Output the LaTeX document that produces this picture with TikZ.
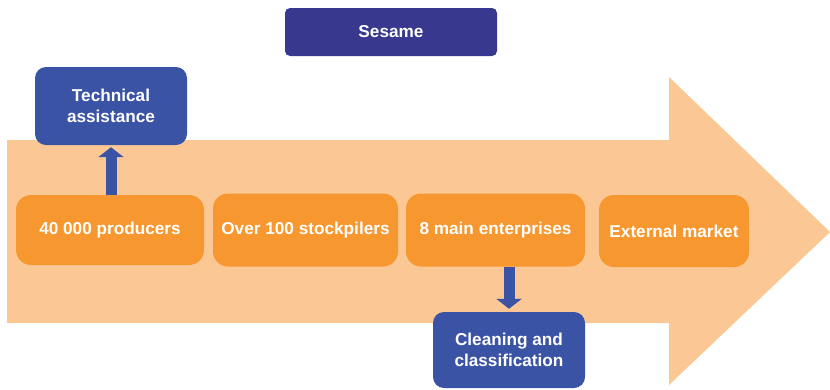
\documentclass[tikz,border=0pt]{standalone}
\usepackage{fontspec}
\setmainfont{Liberation Sans}
\usetikzlibrary{arrows.meta}
\definecolor{flowbg}{HTML}{FBC794}
\definecolor{stage}{HTML}{F7972F}
\definecolor{service}{HTML}{3A53A4}
\definecolor{titlebox}{HTML}{38388F}
\tikzset{
  stagebox/.style={fill=stage, rounded corners=15pt, text=white, font=\bfseries\fontsize{17.2}{20}\selectfont},
  servicebox/.style={fill=service, rounded corners=11pt, text=white, align=center, font=\bfseries\fontsize{17.2}{21}\selectfont},
  blockarrow/.style={draw=service, line width=11pt, -{Triangle[width=25pt,length=10pt]}}
}
\begin{document}
\begin{tikzpicture}[x=1pt,y=-1pt]
\useasboundingbox (0,0) rectangle (830,389);
% broad flow arrow
\fill[flowbg] (7,140) -- (669,140) -- (669,77) -- (830,232) -- (669,385) -- (669,323) -- (7,323) -- cycle;
% title
\node[fill=titlebox, rounded corners=5pt, text=white, font=\bfseries\fontsize{17.2}{20}\selectfont,
      minimum width=212pt, minimum height=48pt] (sesame) at (391,32) {Sesame};
% service boxes
\node[servicebox, minimum width=152pt, minimum height=78pt] (tech) at (111,106) {Technical\\assistance};
\node[servicebox, minimum width=152pt, minimum height=76pt] (clean) at (509,350) {Cleaning and\\classification};
% chain stages
\node[stagebox, minimum width=188pt, minimum height=70pt] (prod) at (110,230) {40 000 producers};
\node[stagebox, minimum width=185pt, minimum height=73pt] (stock) at (305.5,230) {Over 100 stockpilers};
\node[stagebox, minimum width=179pt, minimum height=73pt] (ent) at (495.5,230) {8 main enterprises};
\node[stagebox, minimum width=150pt, minimum height=72pt] (ext) at (674,231) {External market};
% block arrows between stages and services
\draw[blockarrow] (prod.north -| tech.south) -- ([yshift=-2pt]tech.south);
\draw[blockarrow] (ent.south -| clean.north) -- ([yshift=3pt]clean.north);
\end{tikzpicture}
\end{document}
